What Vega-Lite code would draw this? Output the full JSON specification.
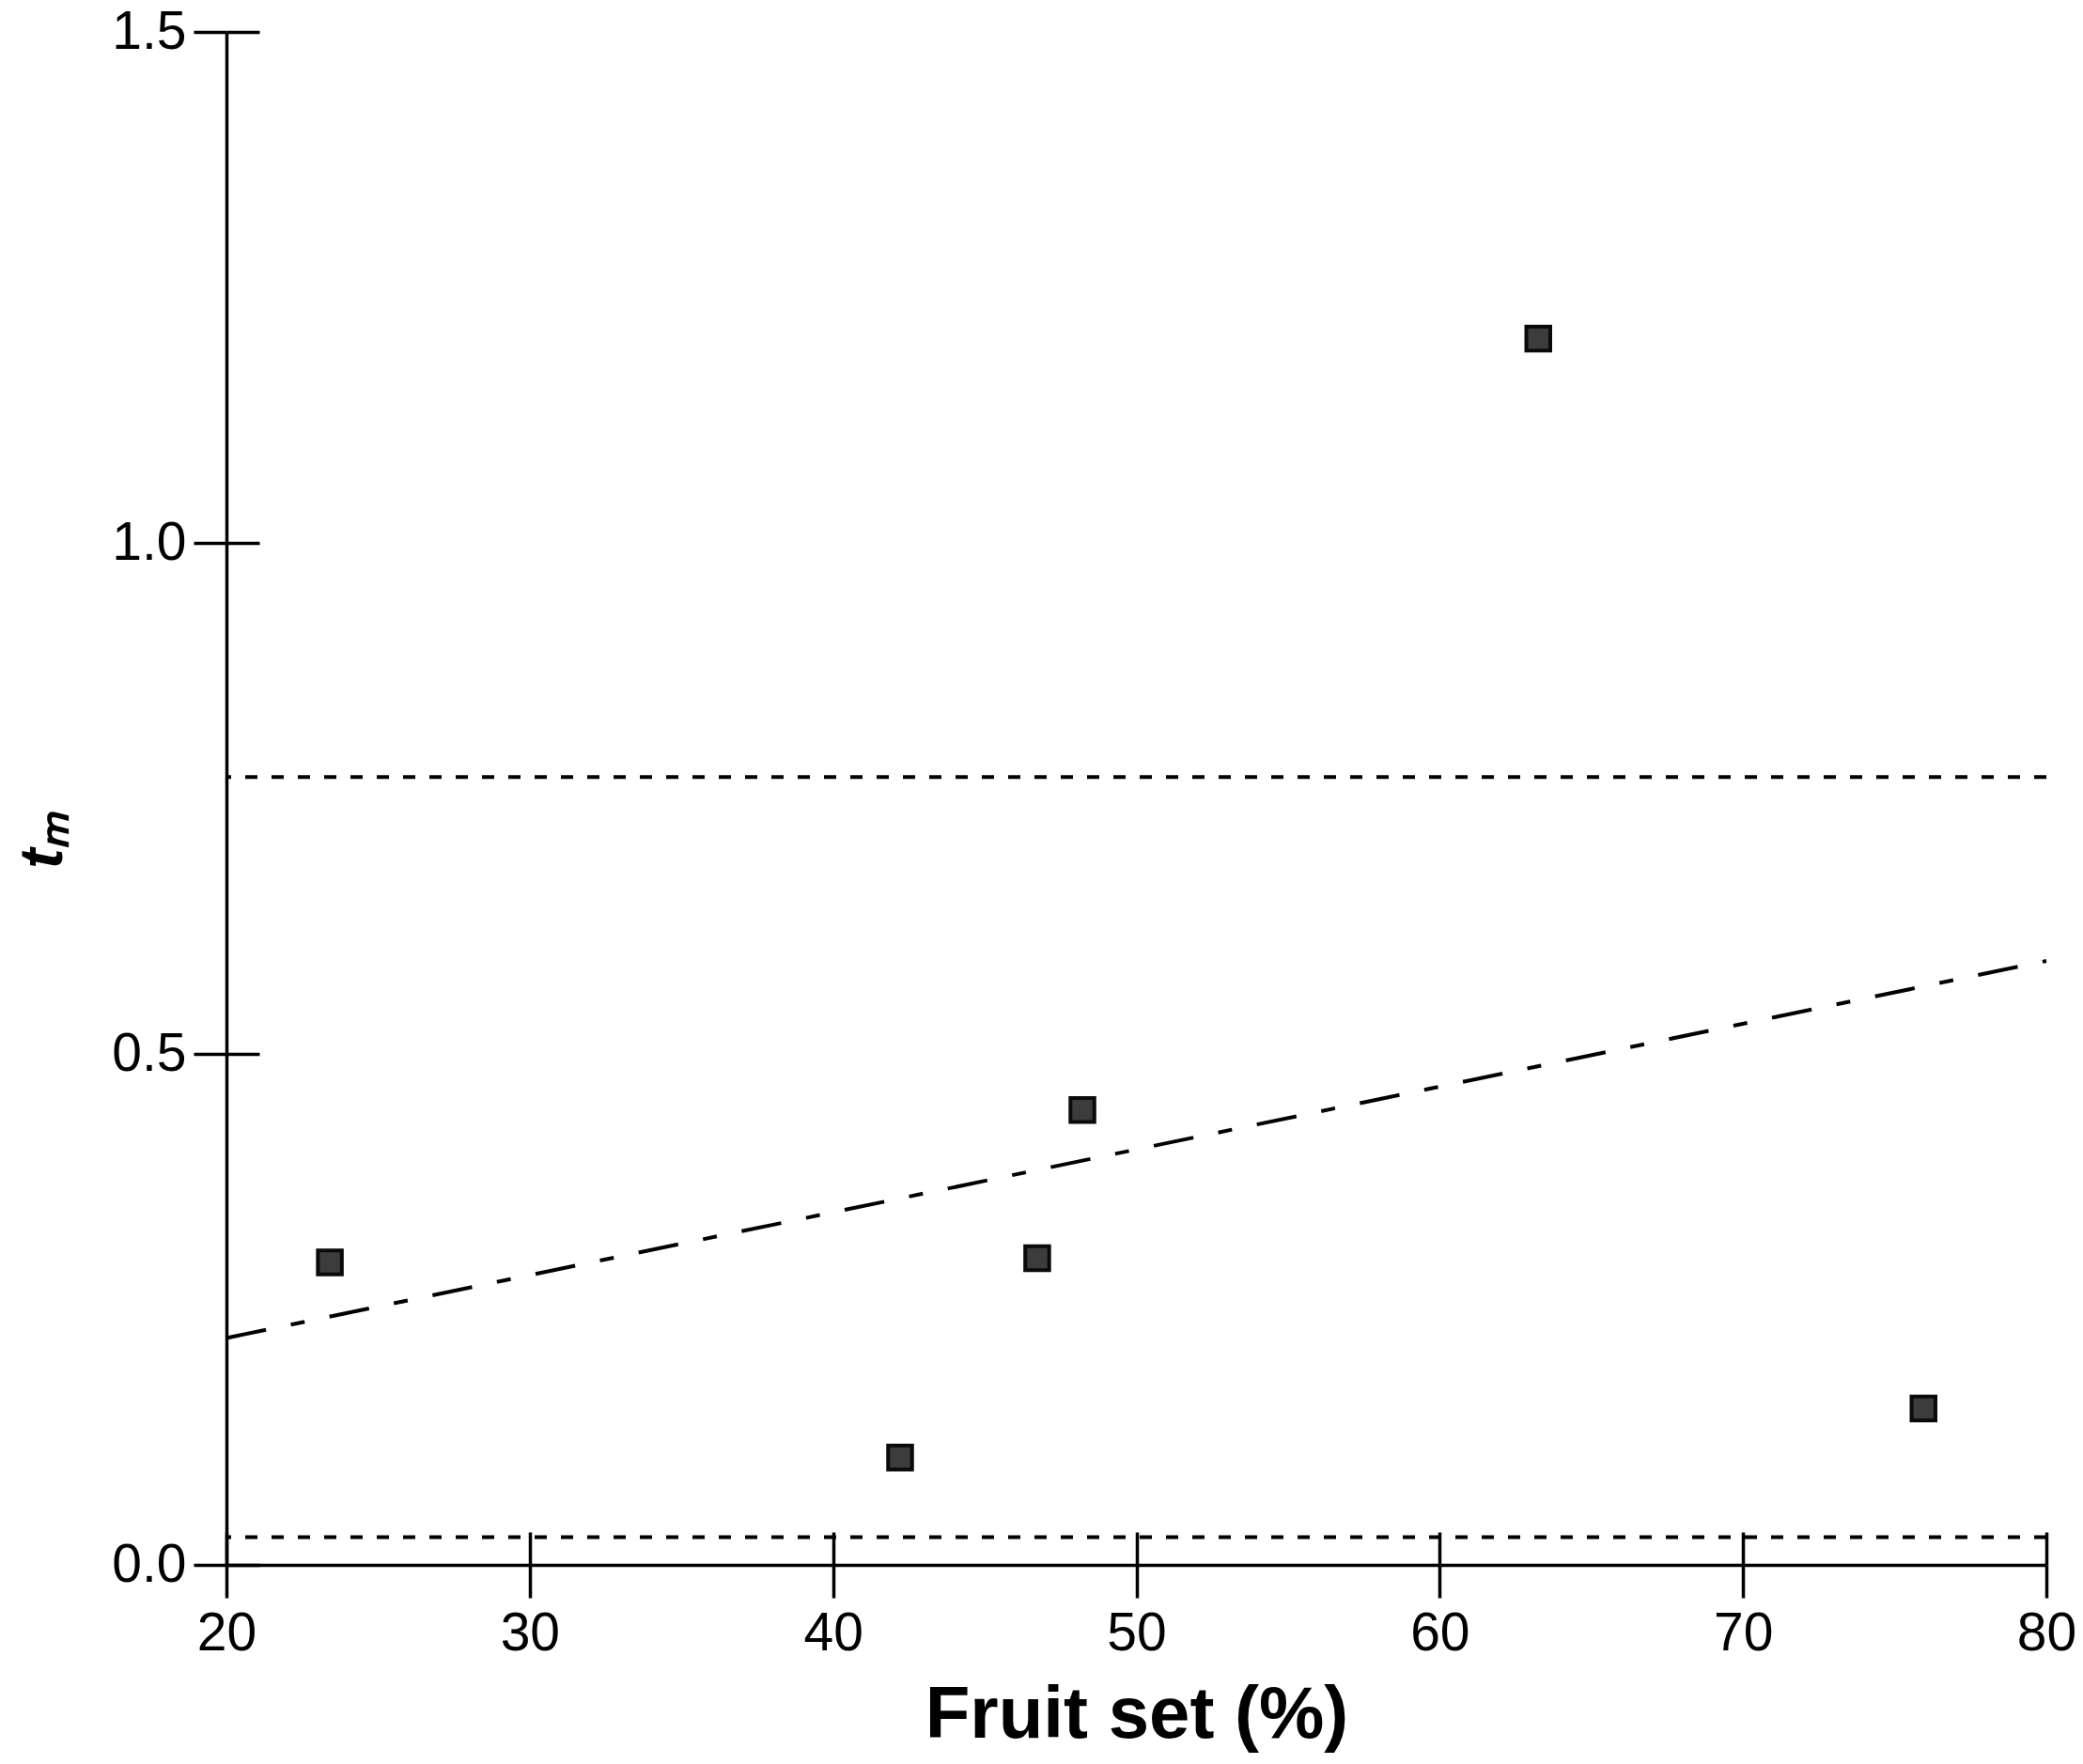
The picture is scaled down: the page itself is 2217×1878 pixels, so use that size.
{
  "$schema": "https://vega.github.io/schema/vega-lite/v6.json",
  "autosize": {"type": "none"},
  "padding": {"left": 241, "top": 34, "right": 39, "bottom": 212},
  "width": 1937,
  "height": 1632,
  "background": "white",
  "config": {
    "view": {"stroke": null},
    "axis": {
      "domainColor": "black",
      "domainWidth": 3.5,
      "tickColor": "black",
      "tickWidth": 3.5,
      "tickSize": 35,
      "grid": false,
      "labelFlush": false,
      "labelFont": "Liberation Sans",
      "labelFontSize": 57,
      "labelColor": "black",
      "titleFont": "Liberation Sans",
      "titleColor": "black"
    }
  },
  "datasets": {
    "points": [
      {"fruitset": 23.41, "tm": 0.296},
      {"fruitset": 42.21, "tm": 0.105},
      {"fruitset": 46.73, "tm": 0.300},
      {"fruitset": 48.22, "tm": 0.445},
      {"fruitset": 63.25, "tm": 1.200},
      {"fruitset": 75.95, "tm": 0.153}
    ],
    "limits": [
      {"tm": 0.771},
      {"tm": 0.027}
    ],
    "fit": [
      {"fruitset": 20, "tm": 0.222},
      {"fruitset": 80, "tm": 0.591}
    ]
  },
  "layer": [
    {
      "data": {"name": "limits"},
      "mark": {"type": "rule", "color": "black", "strokeWidth": 4, "strokeDash": [13, 15]},
      "encoding": {
        "y": {
          "field": "tm", "type": "quantitative",
          "scale": {"domain": [0, 1.5], "nice": false, "zero": false},
          "axis": {"orient": "left", "values": [0, 0.5, 1, 1.5], "labels": false, "domain": false, "tickSize": -35, "title": null}
        }
      }
    },
    {
      "data": {"name": "fit"},
      "mark": {"type": "line", "color": "black", "strokeWidth": 4, "strokeDash": [43, 27, 15, 27]},
      "encoding": {
        "x": {
          "field": "fruitset", "type": "quantitative",
          "scale": {"domain": [20, 80], "nice": false, "zero": false},
          "axis": {"orient": "bottom", "values": [20, 30, 40, 50, 60, 70, 80], "labels": false, "domain": false, "tickSize": -35, "title": null}
        },
        "y": {"field": "tm", "type": "quantitative", "axis": null}
      }
    },
    {
      "data": {"name": "points"},
      "mark": {"type": "point", "shape": "square", "filled": true, "size": 650, "color": "#3c3c3c", "stroke": "#0a0a0a", "strokeWidth": 4, "opacity": 1},
      "encoding": {
        "x": {
          "field": "fruitset", "type": "quantitative",
          "axis": {"orient": "bottom", "values": [20, 30, 40, 50, 60, 70, 80], "labelPadding": 10, "title": "Fruit set (%)", "titleFontSize": 78, "titleFontWeight": "bold", "titlePadding": 20}
        },
        "y": {
          "field": "tm", "type": "quantitative",
          "axis": {"orient": "left", "values": [0, 0.5, 1, 1.5], "format": ".1f", "labelPadding": 8, "title": "tₘ", "titleFontSize": 64, "titleFontWeight": "bold", "titleFontStyle": "italic", "titlePadding": 40, "titleY": 860}
        }
      }
    }
  ],
  "resolve": {"axis": {"x": "independent", "y": "independent"}}
}
